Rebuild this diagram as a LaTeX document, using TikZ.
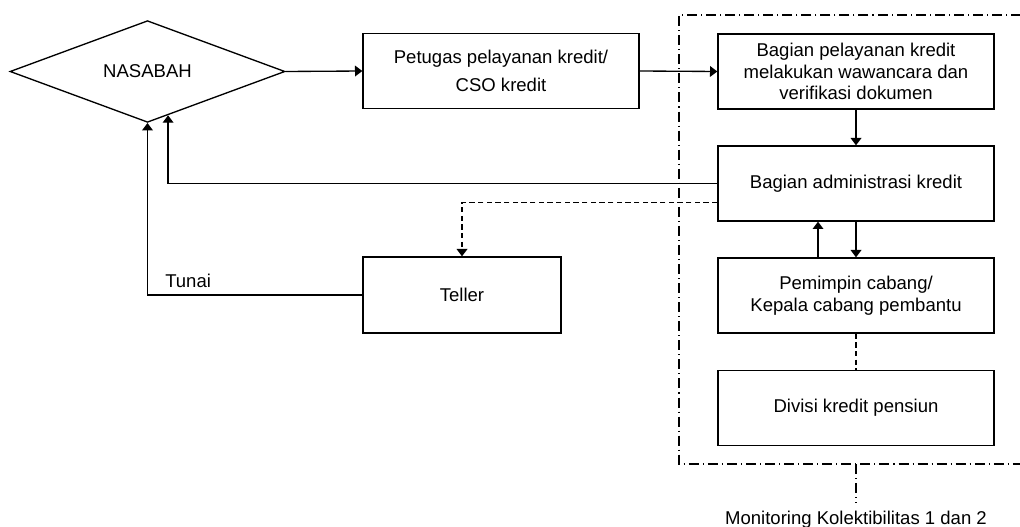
\documentclass[tikz,border=0pt]{standalone}
\usepackage{fontspec}
\setmainfont{Liberation Sans}
\usetikzlibrary{arrows.meta,shapes.geometric,calc}

\tikzset{
  box/.style={draw, line width=1pt, minimum width=207pt, minimum height=56.25pt, inner sep=0pt, align=center},
  link/.style={line width=1pt, -{Triangle[length=5.5pt,width=8pt]}},
  dashlink/.style={link, dash pattern=on 4pt off 2.5pt},
  dashline/.style={line width=1pt, dash pattern=on 4pt off 2.5pt},
  frameline/.style={line width=1pt, dash pattern=on 7.5pt off 3pt on 0.8pt off 3pt}
}

\begin{document}
\begin{tikzpicture}[x=0.75pt, y=-0.75pt, font=\fontsize{13.9}{16.3}\selectfont]
\useasboundingbox (0,0) rectangle (1020,527);

\node[diamond, draw, line width=1pt, inner sep=0pt, minimum width=206.25pt, minimum height=56.25pt] (nas) at (147.5,71.5) {NASABAH};
\node[box] (petugas) at (501,71) {Petugas pelayanan kredit/\\[5pt]CSO kredit};
\node[box] (pelayanan) at (856,71.5) {Bagian pelayanan kredit\\melakukan wawancara dan\\verifikasi dokumen};
\node[box] (admin) at (856,183.5) {Bagian administrasi kredit};
\node[box] (pemimpin) at (856,295.5) {Pemimpin cabang/\\Kepala cabang pembantu};
\node[box] (divisi) at (856,408) {Divisi kredit pensiun};
\node[box, minimum width=148.5pt, minimum height=57pt] (teller) at (462,295) {Teller};

% dash-dot frame
\draw[frameline] (1021,15) -- (679,15) -- (679,464) -- (1021,464);
\coordinate (frameb) at (856,464);
\node[anchor=base, inner sep=6pt] (mon) at (856,524) {Monitoring Kolektibilitas 1 dan 2};
\draw[frameline] (frameb) -- (mon.north);

\draw[link] (nas.east) -- (petugas.west);
\draw[link] (petugas.east) -- (pelayanan.west);
\draw[link] (pelayanan.south) -- (admin.north);
\draw[link] (admin.south) -- (pemimpin.north);
\draw[link] ($(pemimpin.north)+(-38,0)$) -- ($(admin.south)+(-38,0)$);
\draw[dashline] (pemimpin.south) -- (divisi.north);

\coordinate (nasr) at ($(nas.south)!0.149!(nas.east)$);
\draw[link] (admin.west) -| (nasr);
\draw[dashlink] ($(admin.west)+(0,19)$) -| (teller.north);
\draw[link] (teller.west) -| (nas.south);
\node[anchor=base west, inner sep=0pt] (tunai) at (165,287) {Tunai};

\end{tikzpicture}
\end{document}
